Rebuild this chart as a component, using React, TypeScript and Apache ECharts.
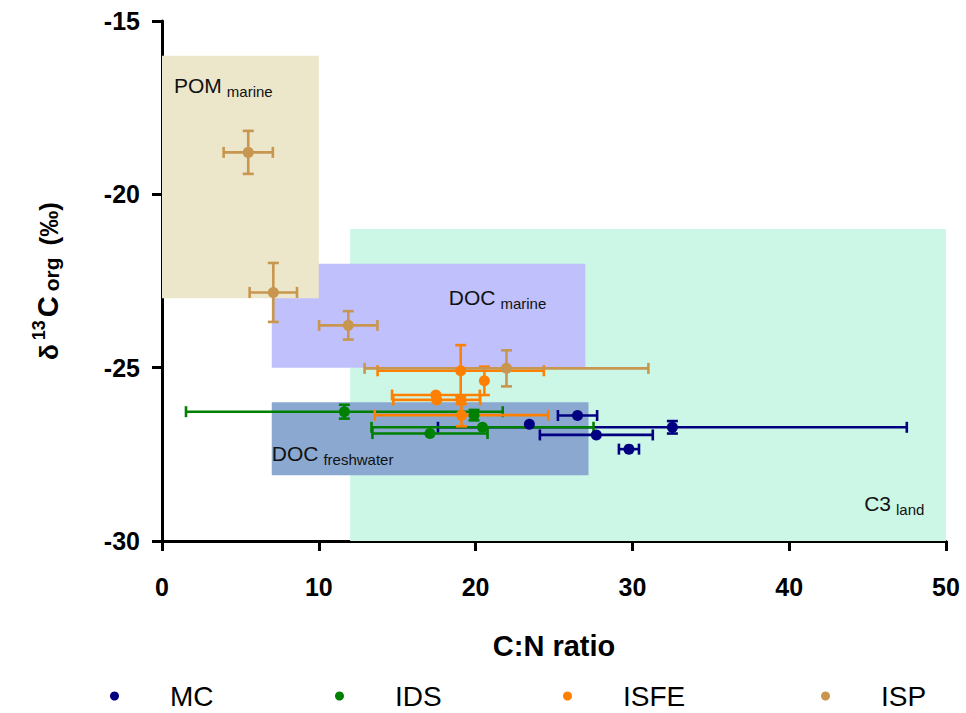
import React, { useEffect, useRef } from 'react';
import * as echarts from 'echarts';

// ---- Data ----
const seriesNames = ['MC', 'IDS', 'ISFE', 'ISP'];
const seriesColors = ['#000080', '#008000', '#FF8000', '#C8964F'];

const mcX = [26.5, 23.43, 32.55, 27.7, 29.78];
const mcY = [-26.38, -26.63, -26.72, -26.94, -27.35];
const mcXErr = [1.25, 0, 14.95, 3.6, 0.64];
const mcYErr = [0, 0, 0.18, 0, 0];

const idsX = [11.63, 19.9, 20.44, 17.09];
const idsY = [-26.27, -26.37, -26.72, -26.9];
const idsXErr = [10.1, 0, 7.08, 3.67];
const idsYErr = [0.2, 0.15, 0, 0];

const isfeX = [19.05, 20.56, 17.47, 17.52, 19.07, 19.1];
const isfeY = [-25.09, -25.38, -25.79, -25.93, -25.93, -26.37];
const isfeXErr = [5.3, 0, 2.8, 2.77, 0, 5.53];
const isfeYErr = [0.74, 0.41, 0, 0, 0, 0.32];

const ispX = [5.5, 7.1, 11.88, 21.97];
const ispY = [-18.79, -22.83, -23.78, -25.02];
const ispXErr = [1.57, 1.51, 1.86, 9.05];
const ispYErr = [0.62, 0.85, 0.41, 0.52];

// source regions (drawn in this order)
const regionLabels = ['{a|C3}{b|land}', '{a|DOC}{b|marine}', '{a|DOC}{b|freshwater}', '{a|POM}{b|marine}'];
const regionX0 = [12, 7, 7, 0];
const regionX1 = [50, 27, 27.2, 10];
const regionY0 = [-21, -22, -26, -16];
const regionY1 = [-30, -25, -28.1, -23];
const regionColors = ['#CCF7E6', '#C0C0FC', '#8BA9D0', '#ECE6CB'];
const regionLabelPos = [[514, 264], [177, 23], [0, 41], [12, 19]];

const xTicks = { min: 0, max: 50, interval: 10 };
const yTicks = { min: -30, max: -15, interval: 5 };

const groups = [
  { x: mcX, y: mcY, ex: mcXErr, ey: mcYErr },
  { x: idsX, y: idsY, ex: idsXErr, ey: idsYErr },
  { x: isfeX, y: isfeY, ex: isfeXErr, ey: isfeYErr },
  { x: ispX, y: ispY, ex: ispXErr, ey: ispYErr },
];

const legendLeft = [105, 330, 558, 816];

export default function App() {
  const ref = useRef<HTMLDivElement>(null);
  useEffect(() => {
    if (!ref.current) return;
    const chart = echarts.init(ref.current, null, { renderer: 'svg' });
    const font = 'Liberation Sans, Arial, Helvetica, sans-serif';

    const regionRich = {
      a: { fontSize: 21, color: '#111', fontFamily: font, verticalAlign: 'top', lineHeight: 24 },
      b: { fontSize: 15, color: '#111', fontFamily: font, verticalAlign: 'bottom', padding: [12, 0, 0, 5], lineHeight: 15 },
    };

    const markData = regionLabels.map((lab, i) => [
      {
        xAxis: regionX0[i],
        yAxis: regionY0[i],
        itemStyle: { color: regionColors[i], opacity: 1 },
        label: {
          show: true,
          position: regionLabelPos[i],
          formatter: lab,
          rich: regionRich,
        },
      },
      { xAxis: regionX1[i], yAxis: regionY1[i] },
    ]);

    const errSeries = groups.map((g, gi) => ({
      type: 'custom',
      name: seriesNames[gi],
      z: 3,
      silent: true,
      itemStyle: { color: seriesColors[gi] },
      encode: { x: 0, y: 1 },
      data: g.x.map((x, i) => [x, g.y[i], g.ex[i], g.ey[i]]),
      renderItem: (params: any, api: any) => {
        const x = api.value(0), y = api.value(1), ex = api.value(2), ey = api.value(3);
        const style = { stroke: seriesColors[gi], lineWidth: 2.6 };
        const cap = 5.5;
        const children: any[] = [];
        const seg = (x1: number, y1: number, x2: number, y2: number) =>
          children.push({ type: 'line', shape: { x1, y1, x2, y2 }, style });
        if (ex > 0) {
          const l = api.coord([x - ex, y]);
          const r = api.coord([x + ex, y]);
          seg(l[0], l[1], r[0], r[1]);
          seg(l[0], l[1] - cap, l[0], l[1] + cap);
          seg(r[0], r[1] - cap, r[0], r[1] + cap);
        }
        if (ey > 0) {
          const t = api.coord([x, y + ey]);
          const b = api.coord([x, y - ey]);
          seg(t[0], t[1], b[0], b[1]);
          seg(t[0] - cap, t[1], t[0] + cap, t[1]);
          seg(b[0] - cap, b[1], b[0] + cap, b[1]);
        }
        return { type: 'group', children };
      },
    }));

    const pointSeries = groups.map((g, gi) => ({
      type: 'scatter',
      name: seriesNames[gi],
      z: 4,
      symbol: 'circle',
      symbolSize: 11,
      itemStyle: { color: seriesColors[gi], opacity: 1 },
      data: g.x.map((x, i) => [x, g.y[i]]),
    }));

    const option: any = {
      animation: false,
      backgroundColor: '#ffffff',
      color: seriesColors,
      grid: { left: 162, right: 20, top: 21, bottom: 172, containLabel: false },
      legend: seriesNames.map((n, i) => ({
        data: [{ name: n, icon: 'circle', itemStyle: { color: seriesColors[i] } }],
        left: legendLeft[i],
        top: 677,
        itemWidth: 9,
        itemHeight: 11,
        selectedMode: false,
        textStyle: { fontSize: 28, color: '#000', fontFamily: font, padding: [0, 0, 0, 46] },
      })),
      xAxis: {
        type: 'value',
        min: xTicks.min,
        max: xTicks.max,
        interval: xTicks.interval,
        name: 'C:N ratio',
        nameLocation: 'middle',
        nameGap: 90,
        nameTextStyle: { fontSize: 29, fontWeight: 'bold', color: '#000', fontFamily: font },
        axisLine: { show: true, onZero: false, lineStyle: { color: '#000', width: 3 } },
        axisTick: { show: true, inside: false, length: 10, lineStyle: { color: '#000', width: 3 } },
        axisLabel: { margin: 33, fontSize: 25, fontWeight: 'bold', color: '#000', fontFamily: font },
        splitLine: { show: false },
      },
      yAxis: {
        type: 'value',
        min: yTicks.min,
        max: yTicks.max,
        interval: yTicks.interval,
        name: '{d|δ}{s|13}{c|C}{o|org}{p|(‰)}',
        nameLocation: 'middle',
        nameRotate: 90,
        nameGap: 100,
        nameTextStyle: {
          color: '#000',
          fontFamily: font,
          rich: {
            d: { fontSize: 26, fontWeight: 'bold', fontFamily: font, verticalAlign: 'bottom', lineHeight: 32 },
            s: { fontSize: 18, fontWeight: 'bold', fontFamily: font, verticalAlign: 'top', lineHeight: 18, padding: [0, 3, 0, 4] },
            c: { fontSize: 29, fontWeight: 'bold', fontFamily: font, verticalAlign: 'bottom', lineHeight: 32 },
            o: { fontSize: 21, fontWeight: 'bold', fontFamily: font, verticalAlign: 'bottom', lineHeight: 26, padding: [0, 12, 0, 5] },
            p: { fontSize: 26, fontWeight: 'bold', fontFamily: font, verticalAlign: 'bottom', lineHeight: 32 },
          },
        },
        axisLine: { show: true, onZero: false, lineStyle: { color: '#000', width: 3 } },
        axisTick: { show: true, inside: false, length: 10, lineStyle: { color: '#000', width: 3 } },
        axisLabel: { margin: 22, fontSize: 25, fontWeight: 'bold', color: '#000', fontFamily: font },
        splitLine: { show: false },
      },
      series: [
        {
          type: 'scatter',
          name: 'regions',
          silent: true,
          z: 1,
          data: [],
          markArea: { silent: true, data: markData },
        },
        ...errSeries,
        ...pointSeries,
      ],
    };
    chart.setOption(option);
    return () => chart.dispose();
  }, []);

  return (
    <div
      ref={ref}
      style={{ position: 'fixed', left: 0, top: 0, width: 966, height: 713, background: '#fff' }}
    />
  );
}
